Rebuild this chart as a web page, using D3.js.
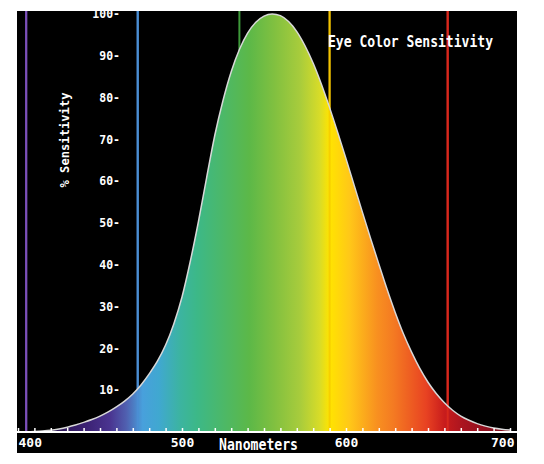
<!DOCTYPE html>
<html>
<head>
<meta charset="utf-8">
<script src="https://cdn.jsdelivr.net/npm/d3@7"></script>
<style>
  html, body { margin: 0; padding: 0; background: #ffffff; }
  svg { display: block; }
  text { font-family: "DejaVu Sans Mono", monospace; fill: #ffffff; }
</style>
</head>
<body>
<svg id="chart" width="544" height="464"></svg>
<script>
// ---- data ----
const wavelengths = [400,405,410,415,420,425,430,435,440,445,450,455,460,465,470,475,480,485,490,495,
  500,505,510,515,520,525,530,535,540,545,550,555,560,565,570,575,580,585,590,595,
  600,605,610,615,620,625,630,635,640,645,650,655,660,665,670,675,680,685,690,695,700];
const sensitivity = [0.04,0.06,0.12,0.22,0.4,0.73,1.16,1.68,2.3,2.98,3.8,4.8,6.0,7.39,9.1,11.26,13.9,16.93,20.8,25.86,
  32.3,40.73,50.3,60.82,71.0,79.32,86.2,91.49,95.4,98.03,99.5,100,99.6,98.2,95.8,92.4,88.2,83.2,77.6,71.6,
  65.4,59.0,52.6,46.3,40.2,34.2,28.6,23.5,19.1,15.2,11.9,9.2,7.0,5.2,3.8,2.8,2.0,1.4,0.95,0.65,0.45];
const markerWavelengths = [405, 473, 535, 590, 662];
const markerColors = ["#7b4fb8", "#4b8ed4", "#3e9a3a", "#f2c200", "#d8281c"];
const markerOverFill = [true, true, false, true, true];
const yTickValues = [10,20,30,40,50,60,70,80,90,100];
const xTickValues = d3.range(400, 701, 10);
const xLabelValues = [400, 500, 600, 700];
const spectrumNm = [400,420,440,456,466,476,486,499,509,525,541,556,572,584,590,602,619,629,649,660,672,690,700];
const spectrumColors = ["#1a0a30","#2a1650","#3a2070","#4a3490","#5060b0","#48a0dc","#40a8d0","#3cb4a0","#3cb888",
  "#4cb868","#5cb848","#80c040","#a8cc3c","#d8dc28","#ffe400","#ffc818","#f89020","#f47a22","#e84222","#c81c1c","#a81420","#8a1020","#801020"];
const titleText = "Eye Color Sensitivity";
const yLabelText = "% Sensitivity";
const xLabelText = "Nanometers";

// ---- chart ----
const svg = d3.select("#chart");
const x = d3.scaleLinear().domain([400, 700]).range([18, 510]);
const y = d3.scaleLinear().domain([0, 100]).range([432, 14]);

svg.append("rect").attr("x", 17).attr("y", 11).attr("width", 500).attr("height", 442).attr("fill", "#000");

const grad = svg.append("defs").append("linearGradient")
  .attr("id", "spectrum").attr("gradientUnits", "userSpaceOnUse")
  .attr("x1", x(400)).attr("x2", x(700)).attr("y1", 0).attr("y2", 0);
spectrumNm.forEach((nm, i) => {
  grad.append("stop").attr("offset", (nm - 400) / 300).attr("stop-color", spectrumColors[i]);
});

const data = wavelengths.map((w, i) => ({ w, v: sensitivity[i] }));
const area = d3.area().x(d => x(d.w)).y0(y(0)).y1(d => y(d.v)).curve(d3.curveMonotoneX);
const line = d3.line().x(d => x(d.w)).y(d => y(d.v)).curve(d3.curveMonotoneX);

// vertical colour markers (behind the fill)
svg.selectAll("line.marker").data(markerWavelengths).join("line")
  .attr("class", "marker")
  .attr("x1", d => x(d)).attr("x2", d => x(d))
  .attr("y1", 11).attr("y2", y(0))
  .attr("stroke", (d, i) => markerColors[i]).attr("stroke-width", 2);

svg.append("path").datum(data).attr("d", area).attr("fill", "url(#spectrum)");

// markers that show through the fill
svg.selectAll("line.marker-over").data(markerWavelengths.filter((d, i) => markerOverFill[i])).join("line")
  .attr("class", "marker-over")
  .attr("x1", d => x(d)).attr("x2", d => x(d))
  .attr("y1", 11).attr("y2", y(0))
  .attr("stroke", d => markerColors[markerWavelengths.indexOf(d)]).attr("stroke-width", 2)
  .attr("stroke-opacity", d => d === 590 ? 0.6 : 1);

svg.append("path").datum(data).attr("d", line).attr("fill", "none")
  .attr("stroke", "#d8d8d8").attr("stroke-width", 1.5);

// y axis
const yAxis = svg.append("g").attr("transform", "translate(120,0)")
  .call(d3.axisLeft(y).tickValues(yTickValues).tickSize(0).tickPadding(0).tickFormat(d => d + "-"));
yAxis.select(".domain").remove();
yAxis.selectAll("text").attr("fill", "#fff").style("font-size", "11.5px").style("font-weight", "bold")
  .style("font-family", "'DejaVu Sans Mono', monospace");

// x axis
svg.append("line").attr("x1", 17).attr("x2", 517).attr("y1", 432).attr("y2", 432)
  .attr("stroke", "#fff").attr("stroke-width", 2);
const xAxis = svg.append("g").attr("transform", "translate(0,433)")
  .call(d3.axisBottom(x).tickValues(xTickValues).tickSizeInner(-5).tickSizeOuter(0).tickPadding(5)
    .tickFormat(d => xLabelValues.includes(d) ? String(d) : ""));
xAxis.select(".domain").remove();
xAxis.selectAll(".tick line").attr("stroke", "#fff").attr("stroke-width", 1.5);
xAxis.selectAll("text").attr("fill", "#fff").style("font-size", "13px").style("font-weight", "bold")
  .style("font-family", "'DejaVu Sans Mono', monospace")
  .attr("text-anchor", d => d === 400 ? "start" : (d === 700 ? "end" : "middle"))
  .attr("dx", d => d === 700 ? 4 : 0)
  .attr("y", 5).attr("dy", "0.71em");

// titles
svg.append("text").attr("x", 328).attr("y", 47).attr("textLength", 165).attr("lengthAdjust", "spacingAndGlyphs")
  .style("font-size", "16px").style("font-weight", "bold").text(titleText);
svg.append("text").attr("x", 219).attr("y", 450).attr("textLength", 79).attr("lengthAdjust", "spacingAndGlyphs")
  .style("font-size", "16px").style("font-weight", "bold").text(xLabelText);
svg.append("text").attr("transform", "translate(69,140) rotate(-90)").attr("text-anchor", "middle")
  .attr("textLength", 95).attr("lengthAdjust", "spacingAndGlyphs")
  .style("font-size", "12.5px").style("font-weight", "bold").text(yLabelText);
</script>
</body>
</html>
